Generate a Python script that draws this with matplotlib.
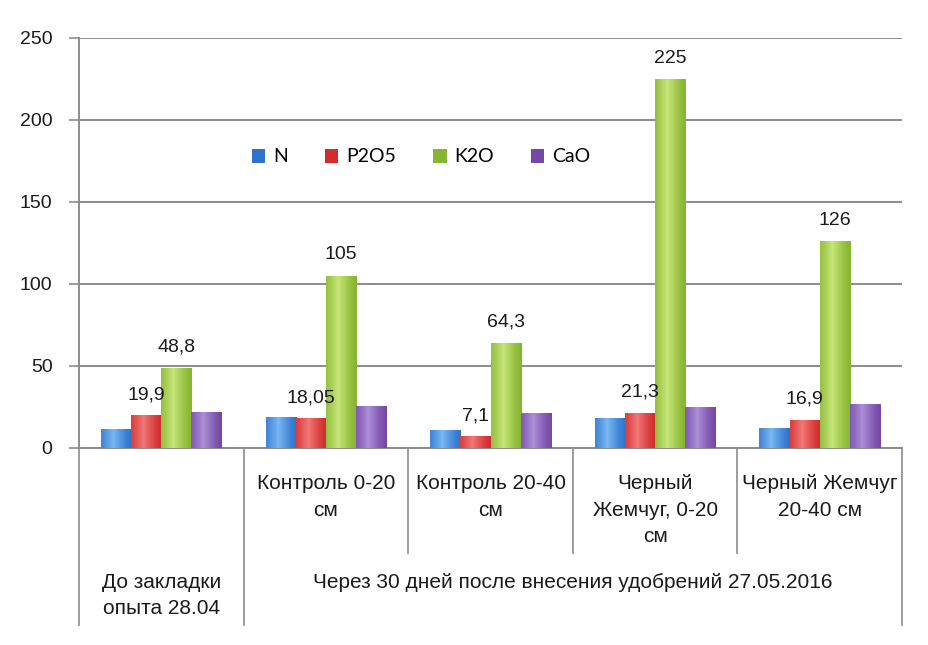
import numpy as np
import matplotlib.pyplot as plt
from matplotlib.colors import to_rgb

series = ['N', 'P2O5', 'K2O', 'CaO']
groups = ['', 'Контроль 0-20\nсм', 'Контроль 20-40\nсм', 'Черный\nЖемчуг, 0-20\nсм', 'Черный Жемчуг\n20-40 см']
outer_labels = ['До закладки\nопыта 28.04', 'Через 30 дней после внесения удобрений 27.05.2016']
n_vals = [11.8, 18.7, 11.0, 18.0, 12.0]
p2o5_vals = [19.9, 18.05, 7.1, 21.3, 16.9]
k2o_vals = [48.8, 105, 64.3, 225, 126]
cao_vals = [21.7, 25.4, 21.3, 24.8, 26.8]
values = [n_vals, p2o5_vals, k2o_vals, cao_vals]
labeled = [False, True, True, False]

base_colors = ['#2f74cc', '#d22b2b', '#86b52f', '#7448a6']
light_colors = ['#7ab8f2', '#f27878', '#c8e67a', '#ad8fd8']

num_font = ['Liberation Sans', 'DejaVu Sans']

fig = plt.figure(figsize=(9.29, 6.45), dpi=100)
# plot area in pixels: x 79..902, y 38..448
ax = fig.add_axes([79 / 929, 1 - 448 / 645, (902 - 79) / 929, 410 / 645])

x = np.arange(len(groups))
w = 0.183


def shade(ax, patch, c_dark, c_light):
    x0, y0 = patch.get_x(), patch.get_y()
    x1, y1 = x0 + patch.get_width(), y0 + patch.get_height()
    t = np.linspace(0, 1, 64)
    # brightest a bit left of centre, darker towards the edges
    k = np.clip(1 - np.abs(t - 0.4) / 0.6, 0, 1) ** 1.3
    d, l = np.array(to_rgb(c_dark)), np.array(to_rgb(c_light))
    img = d[None, :] * (1 - k[:, None]) + l[None, :] * k[:, None]
    im = ax.imshow(img[None, :, :], extent=(x0, x1, y0, y1), aspect='auto',
                   origin='lower', zorder=3, interpolation='bilinear')
    im.set_clip_path(patch)


for i, (name, vals) in enumerate(zip(series, values)):
    bars = ax.bar(x + (i - 1.5) * w, vals, w, color=base_colors[i], label=name,
                  zorder=2, edgecolor='none')
    for b in bars:
        shade(ax, b, base_colors[i], light_colors[i])
    if labeled[i]:
        for b, v in zip(bars, vals):
            ax.annotate(f'{v:g}'.replace('.', ','),
                        (b.get_x() + b.get_width() / 2, b.get_height()),
                        xytext=(0, 15), textcoords='offset points',
                        ha='center', va='center', fontsize=14, family=num_font,
                        color='#1a1a1a', zorder=5)

ax.set_xlim(-0.5, len(groups) - 0.5)
ax.set_ylim(0, 250)
ax.set_yticks(range(0, 251, 50))
ax.tick_params(axis='y', length=7, width=1.2, color='#8c8c8c', labelsize=14,
               pad=12, labelcolor='#1a1a1a')
for lab in ax.get_yticklabels():
    lab.set_family(num_font)
ax.set_xticks([])
ax.grid(axis='y', color='#8c8c8c', linewidth=1.4, zorder=0)
ax.set_axisbelow(True)
for s in ['top', 'right']:
    ax.spines[s].set_visible(False)
for s in ['left', 'bottom']:
    ax.spines[s].set_color('#8c8c8c')
    ax.spines[s].set_linewidth(1.4)


def fy(py):
    # pixel row -> axes fraction
    return (448 - py) / 410


trans = ax.get_xaxis_transform()
for xb in [1.5, 2.5, 3.5]:
    ax.plot([xb, xb], [0, fy(553)], transform=trans, clip_on=False,
            color='#8c8c8c', lw=1.2)
for xb in [-0.5, 0.5, len(groups) - 0.5]:
    ax.plot([xb, xb], [0, fy(625)], transform=trans, clip_on=False,
            color='#8c8c8c', lw=1.2)

cat_font = ['Liberation Sans', 'DejaVu Sans']
for xi, g in zip(x, groups):
    ax.text(xi, fy(474), g, transform=trans, ha='center', va='top',
            fontsize=15, family=cat_font, linespacing=1.5, color='#1a1a1a')
ax.text(0, fy(573), outer_labels[0], transform=trans, ha='center', va='top',
        fontsize=15, family=cat_font, linespacing=1.5, color='#1a1a1a')
ax.text(2.5, fy(573), outer_labels[1], transform=trans, ha='center', va='top',
        fontsize=15, family=cat_font, linespacing=1.5, color='#1a1a1a')

fig.legend(loc='center', bbox_to_anchor=(421 / 929, 1 - 157 / 645), ncol=4,
           frameon=False, handlelength=0.7, handleheight=0.7,
           handletextpad=0.4, columnspacing=1.9,
           prop={'family': ['Lato', 'DejaVu Sans'], 'size': 14})

fig.savefig('out.png', dpi=100)
